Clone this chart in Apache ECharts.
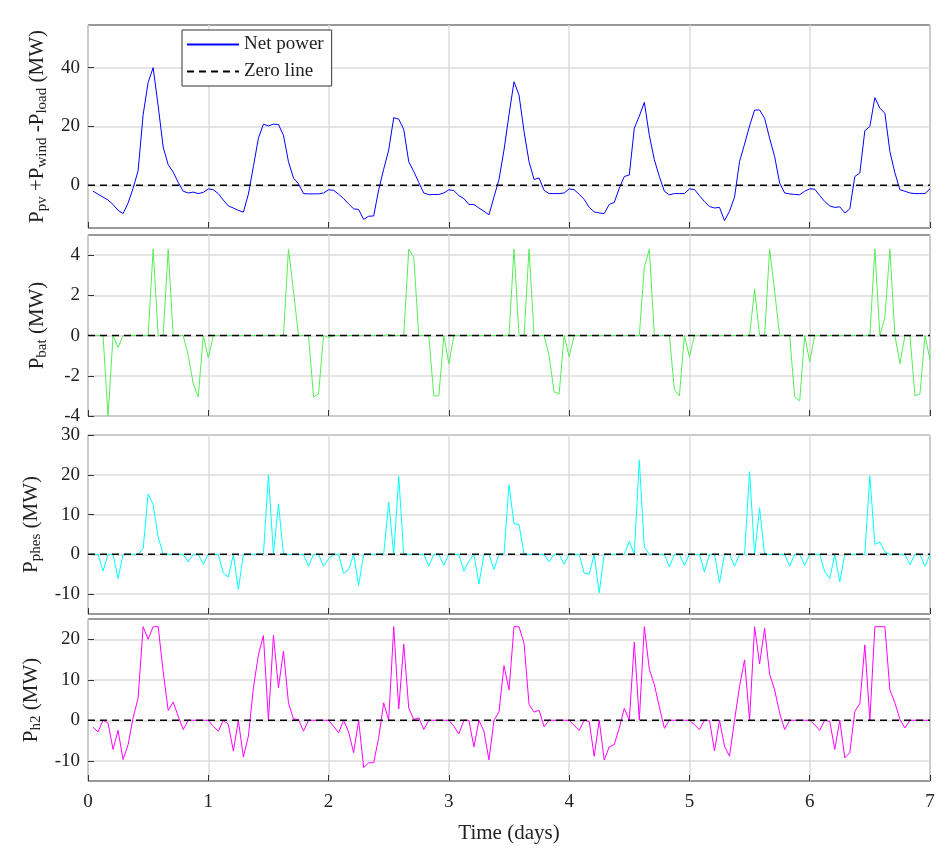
<!DOCTYPE html>
<html>
<head>
<meta charset="utf-8">
<script src="https://cdn.jsdelivr.net/npm/echarts@6/dist/echarts.min.js"></script>
<style>html,body{margin:0;padding:0;background:#fff}#chart{width:943px;height:856px}</style>
</head>
<body>
<div id="chart"></div>
<script>
// hourly values, hour 1..168
var netPower = [
  -2,-3,-4,-5,-6.5,-8.5,-9.6,-6,-1,5,24,35,40,27,13,7,4.5,1,-2,-2.6,-2.3,-2.8,-2.4,-1.2,
  -1.5,-2.8,-5,-7,-7.7,-8.5,-9.1,-3,6.4,16,20.8,20.2,20.8,20.7,17,8,2.5,0.5,-2.8,-2.9,-2.9,-2.9,-2.6,-1.5,
  -1.7,-3,-4.5,-6.3,-8,-8.2,-11.6,-10.5,-10.4,-1.5,5.5,12,23,22.5,19,8,4.7,1,-2.6,-3.2,-3.1,-3.1,-2.6,-1.5,
  -1.8,-3.5,-4.5,-6.5,-6.5,-7.7,-8.8,-10,-4,2,12,24,35.2,30.7,18.3,8,2,2.5,-1.7,-2.8,-2.8,-2.8,-2.6,-1.2,
  -1.5,-3,-4.8,-7.5,-9,-9.4,-9.6,-6.5,-5.8,-1,3,3.5,19.4,23.5,28.2,17,8.7,3,-2,-3.2,-2.8,-2.8,-2.8,-1.2,
  -1.4,-3.5,-5.5,-7.2,-7.7,-7.5,-12,-8.8,-4,8.1,14,20.2,25.6,25.6,22.8,16,9.8,0.8,-2.6,-2.9,-3.1,-3.2,-2,-1.2,
  -1.3,-3.5,-5.5,-7,-7.5,-7.3,-9.4,-8,3,4.2,18.6,20,29.8,26.2,24.5,11.5,4.2,-1.5,-2,-2.6,-2.8,-2.8,-2.8,-1.2
];
var pBat = [
  0,0,0,-4,0,-0.6,0,0,0,0,0,0,4.3,0,0,4.3,0,0,0,-1,-2.4,-3.05,0,-1.1,
  0,0,0,0,0,0,0,0,0,0,0,0,0,0,0,4.3,2.2,0,0,0,-3.05,-2.9,0,-0.1,
  0,0,0,0,0,0,0,0,0,0,0,0.05,0,0,0,4.3,3.9,0,0,0,-3,-3,0,-1.4,
  0,0,0,0,0,0,0,0,0,0,0,0,4.3,0,0,4.3,0,0,0,-1,-2.8,-2.9,0,-1.05,
  0,0,0,0,0,0,0,0,0,0,0,0,0,0,3.4,4.3,0,0,0,0,-2.7,-3,0,-1.05,
  0,0,0,0,0,0,0,0,0,0,0,0,2.3,0,0,4.3,2.2,0,0,0,-3.05,-3.25,0,-1.3,
  0,0,0,0,0,0,0,0,0,0,0,0,4.3,0,0.9,4.3,0,-1.4,0,0,-3,-2.9,0,-1.2
];
var pPhes = [
  0,0,-4.2,0,0,-6.1,0,0,0,0,1.4,15.2,12.5,4.3,0,0,0,0,0,-1.9,0,0,-2.5,0,
  0,0,-4.7,-5.7,0,-8.8,0,0,0,0,0,20,0,12.7,0,0,0,0,0,-3,0,0,-3,-1.1,
  0,0,-4.8,-3.8,0,-7.8,0,0,0,0,0,13.1,0,19.6,0,0,0,0,0,-3,0,0,-2.75,0,
  0,0,-4.25,-1.7,0,-7.5,0,0,-3.8,0,0,17.5,7.7,7.5,0,0,0,0,0,-1.9,0,0,-2.5,0,
  0,0,-4.7,-5,0,-9.7,0,0,0,0,0,3.3,0,23.7,1.8,0,0,0,0,-3.2,0,0,-2.75,0,
  0,0,-4.4,0,0,-7.2,0,0,-3,0,0,20.8,0,11.7,0,0,0,0,0,-3,0,0,-2.75,0,
  0,0,-4.4,-6.1,0,-6.9,0,0,0,0,0,19.75,2.5,3.1,0.6,0,0,0,0,-2.6,0,0,-3,0
];
var pH2 = [
  -1.7,-2.9,0,-0.7,-7.2,-2.5,-9.7,-6,0.6,5.5,23.1,20,23.1,23.1,12,2.4,4.5,1,-2.3,0,0,0,0,0,
  -1.5,-2.7,0,-1,-7.6,0,-9.1,-3.9,8,16.1,20.9,0,21,8,17.1,4.3,0.3,0.2,-2.7,0,0,0,0,0,
  -1.5,-3.1,0,-2.9,-8,0,-11.7,-10.5,-10.5,-4.3,4.3,0,23.1,2.8,18.8,3,0.2,0.6,-2.3,0,0,0,0,0,
  -1.5,-3.4,0,0,-6.6,0,-2.7,-9.8,0,2,13.5,7.5,23.1,23.1,19,3.9,2,2.5,-1.6,0,0,0,0,0,
  -1.3,-2.5,0,-0.3,-8.9,0,-9.8,-6.6,-6,-1.9,2.9,0,19.3,0,23.1,12.6,8.8,3.3,-2,0,0,0,0,0,
  -1.1,-2.3,0,0,-7.6,0,-6.4,-8.9,0,8.4,14.9,0,23.1,13.9,22.7,11.4,7.5,1.8,-2.3,0,0,0,0,0,
  -1.1,-2.5,0,-0.3,-7.2,0,-9.3,-8,2.2,4.1,18.6,0,23.1,23.1,23.1,7.5,4.3,0.2,-1.9,0,0,0,0,0
];
var dayTicks = [0,1,2,3,4,5,6,7];
var yTicks1 = [0,20,40];
var yTicks2 = [-4,-2,0,2,4];
var yTicks3 = [-10,0,10,20,30];
var yTicks4 = [-10,0,10,20];

var FONT = "Liberation Serif";
var toXY = function(arr){ return arr.map(function(v,i){ return [(i+1)/24, v]; }); };

var panels = [
  {top:25, h:203, min:-14.5, max:54.5, ticks:yTicks1, data:netPower, color:"#0000ff", name:"Net power",
   label:"P{s|pv} +P{s|wind} -P{s|load} (MW)"},
  {top:235, h:181, min:-4, max:5, ticks:yTicks2, data:pBat, color:"#55ee55", name:"bat",
   label:"P{s|bat} (MW)"},
  {top:435, h:179, min:-15, max:30, ticks:yTicks3, data:pPhes, color:"#00ffff", name:"phes",
   label:"P{s|phes} (MW)"},
  {top:619, h:162, min:-15, max:25, ticks:yTicks4, data:pH2, color:"#ff00ff", name:"h2",
   label:"P{s|h2} (MW)"}
];

var grids=[], xAxes=[], yAxes=[], series=[];
panels.forEach(function(p,i){
  var last = i === panels.length-1;
  grids.push({left:88, right:13, top:p.top, height:p.h, show:true, borderColor:"#333", borderWidth:1});
  xAxes.push({type:"value", gridIndex:i, min:0, max:7, interval:1,
    axisLine:{show:false, onZero:false}, axisTick:{inside:true, length:6, lineStyle:{color:"#333"}},
    axisLabel:{show:last, fontFamily:FONT, fontSize:19, color:"#222", margin:12},
    splitLine:{show:true, lineStyle:{color:"#ddd", width:1.5}},
    name: last ? "Time (days)" : "", nameLocation:"middle", nameGap:42,
    nameTextStyle:{fontFamily:FONT, fontSize:21, color:"#222"}});
  yAxes.push({type:"value", gridIndex:i, min:p.min, max:p.max,
    axisLine:{show:false, onZero:false},
    axisTick:{inside:true, length:6, customValues:p.ticks, lineStyle:{color:"#333"}},
    axisLabel:{customValues:p.ticks, fontFamily:FONT, fontSize:19, color:"#222"},
    splitLine:{show:true, lineStyle:{color:"#ddd", width:1.5}},
    name:p.label, nameLocation:"middle", nameRotate:90, nameGap:40,
    nameTextStyle:{fontFamily:FONT, fontSize:21, color:"#222",
      rich:{s:{fontFamily:FONT, fontSize:15, color:"#222", padding:[0,0,-10,0]}}}});
  series.push({type:"line", name:p.name, xAxisIndex:i, yAxisIndex:i, data:toXY(p.data),
    symbol:"none", lineStyle:{color:p.color, width:1}, itemStyle:{color:p.color}, z:3});
  series.push({type:"line", name: i===0 ? "Zero line" : "zero"+i, xAxisIndex:i, yAxisIndex:i,
    data:[[0,0],[7,0]], symbol:"none", lineStyle:{color:"#000", width:1.5, type:[7,5]},
    itemStyle:{color:"#000"}, z:4});
});

var chart = echarts.init(document.getElementById("chart"));
chart.setOption({
  animation:false,
  grid:grids, xAxis:xAxes, yAxis:yAxes, series:series,
  legend:{show:true, data:["Net power","Zero line"], orient:"vertical", left:182, top:30, z:10,
    backgroundColor:"#fff", borderColor:"#333", borderWidth:1, padding:[5,8,5,4], itemGap:8,
    itemWidth:52, itemHeight:14, itemStyle:{opacity:0},
    textStyle:{fontFamily:FONT, fontSize:19, color:"#222"}}
});
</script>
</body>
</html>
